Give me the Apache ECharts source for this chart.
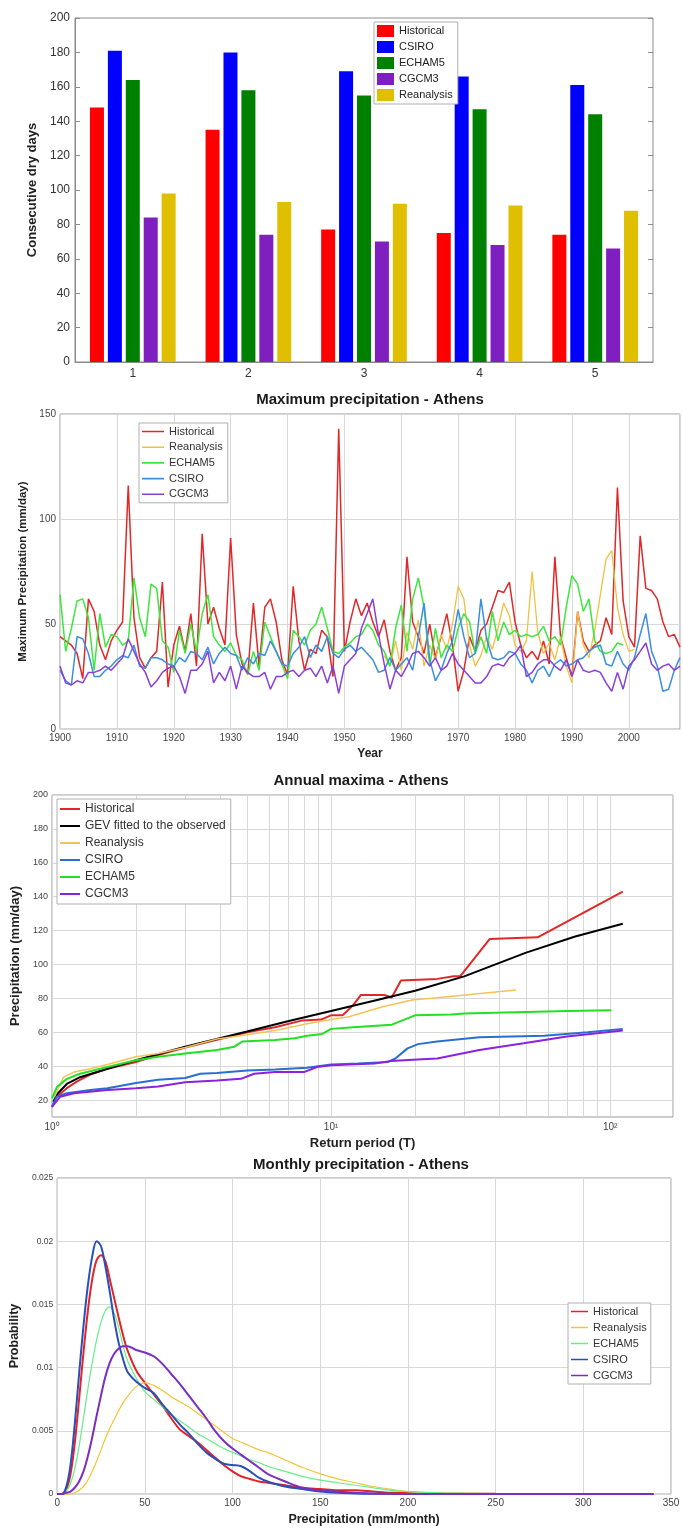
<!DOCTYPE html>
<html><head><meta charset="utf-8">
<script src="https://cdn.jsdelivr.net/npm/echarts@6/dist/echarts.min.js"></script>
<style>
html,body{margin:0;padding:0;background:#fff;}
#wrap{position:relative;width:683px;height:1531px;overflow:hidden;background:#fff;}
.p{position:absolute;left:0;width:683px;}
</style></head><body>
<div id="wrap">
<div id="c1" class="p" style="top:0;height:385px"></div>
<div id="c2" class="p" style="top:380px;height:385px"></div>
<div id="c3" class="p" style="top:760px;height:395px"></div>
<div id="c4" class="p" style="top:1135px;height:396px"></div>
</div>
<script>
// ---------- Panel 1: consecutive dry days ----------
const cddCategories = ['1','2','3','4','5'];
const cddHistorical = [148,135,77,75,74];
const cddCSIRO      = [181,180,169,166,161];
const cddECHAM5     = [164,158,155,147,144];
const cddCGCM3      = [84,74,70,68,66];
const cddReanalysis = [98,93,92,91,88];

// ---------- Panel 2: maximum precipitation (mm/day) by year ----------
const histStartYear = 1900;
const maxHistorical = [44,42,40,36,24,62,56,40,33,42,
 47,51,116,53,34,29,34,37,70,20,
 40,49,37,55,30,93,50,58,48,40,
 91,45,31,26,60,30,58,62,51,33,
 26,68,42,28,38,36,47,44,25,143,
 37,51,62,54,60,51,44,52,37,28,
 34,82,51,44,36,50,34,44,55,40,
 18,28,44,37,47,50,58,66,65,70,
 51,40,34,37,33,42,31,82,44,34,
 25,56,42,37,40,42,53,45,115,61,
 44,39,92,67,66,62,51,44,45,39];
const reanStartYear = 1957;
const maxReanalysis = [35,30,42,
 28,46,38,52,30,40,33,45,38,50,
 68,62,40,30,35,44,38,48,60,54,
 40,37,42,75,46,36,41,33,44,30,
 22,56,40,34,47,64,81,85,58,45,
 37,38];
const echamStartYear = 1900;
const maxECHAM5 = [64,37,48,61,62,53,28,55,39,45,
 44,40,42,72,53,44,69,67,42,39,
 27,47,36,50,37,55,64,44,40,37,
 41,35,33,26,37,28,51,44,37,31,
 24,47,44,40,47,50,58,48,37,36,
 39,41,44,45,50,47,40,37,30,48,
 59,37,62,72,58,30,48,34,40,37,
 48,55,51,36,44,36,56,42,51,45,
 47,44,45,44,45,49,42,44,40,58,
 73,69,56,62,42,37,36,37,41,40];
const csiroStartYear = 1900;
const maxCSIRO = [28,23,21,44,43,36,25,25,28,30,
 33,35,34,40,30,29,34,34,33,31,
 30,34,32,37,36,33,39,31,36,39,
 36,35,28,34,31,36,35,42,37,31,
 30,36,39,44,34,40,37,44,36,34,
 38,40,37,39,36,33,27,28,34,28,
 31,34,28,44,60,33,23,28,36,42,
 57,44,34,36,62,43,34,33,34,37,
 36,31,28,22,28,30,25,31,33,30,
 31,33,34,37,39,40,31,30,37,31,
 28,34,45,55,37,30,18,19,28,34];
const cgcmStartYear = 1900;
const maxCGCM3 = [30,22,21,23,22,27,27,28,30,28,
 31,34,43,37,31,27,20,23,27,29,
 30,25,17,28,28,31,37,22,27,23,
 30,19,30,27,25,25,27,19,25,25,
 27,28,25,28,29,25,30,22,30,17,
 30,33,36,48,55,62,45,31,19,28,
 25,30,36,37,34,30,34,28,30,36,
 31,28,25,22,22,25,30,31,30,34,
 36,40,25,27,31,33,33,30,28,33,
 25,33,28,27,28,27,22,18,27,19,
 30,33,37,41,31,28,30,31,28,30];

// ---------- Panel 3: annual maxima vs return period [T, mm/day] ----------
const amHistorical = [[1.0,16],[1.04,22],[1.13,27],[1.23,31],[1.37,35],[1.58,38.5],[2.0,42.5],[2.4,46.5],[3.0,51],[4.0,56],[5.0,60],[6.3,63],[7.9,67],[9.2,67.5],[10,70],[11,70],[12,76],[12.8,82],[15.5,82],[16.5,80.5],[17.8,90.5],[24,91.5],[27.5,93],[29,93],[37,115],[55,116],[111,143]];
const amGEV = [[1.01,19],[1.05,24],[1.13,29.5],[1.26,33.5],[1.58,38.5],[2,43.5],[3,51.5],[5,60.5],[7,66.5],[10,72.5],[15,79.5],[20,84.5],[30,93],[50,107],[75,116.5],[111,124]];
const amReanalysis = [[1.02,22],[1.1,33.5],[1.2,36.5],[1.37,38.5],[1.58,41],[2,45.5],[2.4,47.5],[3,51],[3.9,56],[5,58.5],[6.3,61],[8.2,65],[10,67.5],[11.5,69],[15.3,75],[19.5,79],[23,80],[46,85]];
const amCSIRO = [[1.0,16],[1.04,22],[1.13,24],[1.37,26],[1.58,27],[2,30],[2.4,32],[3,33],[3.4,35.5],[3.9,36],[5,37.5],[6.3,38],[8.2,39],[10,41],[12.5,41.5],[16,42.5],[17,44.5],[18.8,50.5],[20.5,53],[24,54.5],[34,57],[58,58],[83,60],[111,62]];
const amECHAM5 = [[1.0,21],[1.04,27.5],[1.13,32.5],[1.26,35.5],[1.58,39.5],[2,43.5],[2.4,45.5],[3,47.5],[3.9,49.5],[4.5,51.5],[4.8,54.5],[6.3,55.5],[7.4,56.5],[8.2,58],[9.3,59],[10,62],[12,63],[16.5,64.5],[20,70],[27,70.5],[30,71],[50,72],[70,72.5],[101,73]];
const amCGCM3 = [[1.0,16],[1.07,22],[1.2,24],[1.58,26],[2,27],[2.4,28],[3,30.5],[3.9,31.5],[4.75,32.5],[5.3,35.5],[6.3,36.5],[8,36.5],[8.9,39.5],[10,40.5],[14.3,41.5],[16.4,43],[20.4,44],[24,44.5],[34,49.5],[49,53.5],[70,57.5],[111,61]];
const logMinorGrid = [2,3,4,5,6,7,8,9,20,30,40,50,60,70,80,90];

// ---------- Panel 4: monthly precipitation densities ----------
const precipGrid = [0,2.5,5,7.5,10,12.5,15,17.5,20,22.5,25,27.5,30,32.5,35,37.5,40,45,50,55,60,65,70,75,80,85,90,95,100,105,110,115,120,130,140,150,160,170,180,190,200,220,250,300,340];
const pdfHistorical = [0,0,0.0003,0.0015,0.0040,0.0075,0.0112,0.0145,0.0170,0.0185,0.0189,0.0184,0.0170,0.0155,0.0140,0.0126,0.0114,
 0.0098,0.0088,0.0079,0.0070,0.0060,0.0051,0.0046,0.0041,0.0035,0.0029,0.0023,0.0018,0.0014,0.0012,0.0010,0.0009,
 0.0007,0.0005,0.0004,0.0003,0.0003,0.0002,0.0001,0.0001,0.00005,0.00002,0,0];
const pdfReanalysis = [0,0,0,0,0.0001,0.0003,0.0006,0.0011,0.0018,0.0026,0.0035,0.0044,0.0052,0.0059,0.0066,0.0072,0.0077,
 0.0085,0.0088,0.0086,0.0082,0.0077,0.0073,0.0069,0.0064,0.0059,0.0054,0.0049,0.0044,0.0041,0.0038,0.0035,0.0033,
 0.0027,0.0021,0.0016,0.0012,0.0009,0.0006,0.0004,0.0002,0.0001,0.00004,0.00001,0];
const pdfECHAM5 = [0,0,0.0002,0.0008,0.0020,0.0038,0.0060,0.0083,0.0104,0.0122,0.0136,0.0145,0.0148,0.0143,0.0132,0.0118,0.0106,
 0.0092,0.0081,0.0075,0.0069,0.0063,0.0058,0.0053,0.0048,0.0044,0.0040,0.0036,0.0033,0.0030,0.0027,0.0025,0.0022,
 0.0018,0.0014,0.0011,0.0009,0.0007,0.0005,0.0003,0.0002,0.0001,0.00003,0.00001,0];
const pdfCSIRO = [0,0,0.0005,0.0022,0.0055,0.0095,0.0133,0.0165,0.0188,0.0200,0.0196,0.0180,0.0160,0.0138,0.0120,0.0107,0.0097,
 0.0089,0.0084,0.0080,0.0071,0.0063,0.0055,0.0048,0.0040,0.0033,0.0028,0.0024,0.0023,0.0022,0.0018,0.0013,0.0010,
 0.0006,0.0004,0.0002,0.0001,0.00005,0.00003,0.00002,0.00001,0,0,0,0];
const pdfCGCM3 = [0,0,0.0001,0.0002,0.0005,0.0010,0.0018,0.0030,0.0045,0.0062,0.0078,0.0093,0.0104,0.0111,0.0115,0.0117,0.0117,
 0.0114,0.0112,0.0109,0.0103,0.0095,0.0087,0.0078,0.0069,0.0060,0.0050,0.0042,0.0036,0.0031,0.0026,0.0021,0.0016,
 0.0010,0.0005,0.0003,0.0002,0.0001,0.00005,0.00002,0,0,0,0,0];

// ---------- helpers ----------
const FONT = '"Liberation Sans", Arial, Helvetica, sans-serif';
const GRIDC = '#d8d8d8';
const BOXC = '#9a9a9a';
function byYear(start, vals){ return vals.map((v,i)=>[start+i, v]); }
function zip(xs, ys){ return xs.map((x,i)=>[x, ys[i]]); }
function titleText(x, y, text){
  return {type:'text', x:x, y:y, silent:true,
    style:{text:text, font:'bold 15px '+FONT, fill:'#1a1a1a', align:'center', verticalAlign:'middle'}};
}
// a plain line-segment legend icon (w x h box, line of thickness t in the middle)
function lineIcon(w, h, t){
  const a = (h - t) / 2, b = (h + t) / 2;
  return 'path://M0,0 L0.01,0 M0,' + a + ' L' + w + ',' + a + ' L' + w + ',' + b + ' L0,' + b + ' Z M0,' + h + ' L0.01,' + h;
}
function lineSeries(name, data, color, width, extra){
  return Object.assign({name:name, type:'line', data:data, symbol:'none', showSymbol:false,
    lineStyle:{color:color, width:width}, itemStyle:{color:color}, emphasis:{disabled:true}, animation:false}, extra||{});
}

// ---------- Panel 1 ----------
const c1 = echarts.init(document.getElementById('c1'));
c1.setOption({
  animation:false,
  textStyle:{fontFamily:FONT},
  grid:{left:75, top:18, width:578, height:344, show:true, borderColor:'#8c8c8c', borderWidth:1},
  legend:{orient:'vertical', left:374, top:22, itemWidth:17, itemHeight:12, itemGap:4, icon:'rect', z:20,
    padding:[3,5,3,3], borderColor:'#b0b0b0', borderWidth:1, backgroundColor:'#fff',
    textStyle:{fontSize:11, color:'#222', fontFamily:FONT},
    data:['Historical','CSIRO','ECHAM5','CGCM3','Reanalysis']},
  xAxis:[
    {type:'category', data:cddCategories, axisLine:{lineStyle:{color:'#8c8c8c'}},
     axisTick:{alignWithLabel:true, inside:true, length:5, lineStyle:{color:'#8c8c8c'}},
     axisLabel:{fontSize:12, color:'#333', margin:6}},
    {type:'category', position:'top', data:cddCategories, axisLine:{show:false},
     axisTick:{alignWithLabel:true, inside:true, length:5, lineStyle:{color:'#8c8c8c'}}, axisLabel:{show:false}}
  ],
  yAxis:[
    {type:'value', min:0, max:200, interval:20, name:'Consecutive dry days', nameLocation:'middle', nameGap:28,
     nameTextStyle:{fontSize:13, fontWeight:'bold', color:'#222'},
     axisLine:{show:true, lineStyle:{color:'#8c8c8c'}}, axisTick:{show:true, inside:true, length:5, lineStyle:{color:'#8c8c8c'}},
     axisLabel:{fontSize:12, color:'#333', margin:5}, splitLine:{show:false}},
    {type:'value', position:'right', min:0, max:200, interval:20, axisLine:{show:false},
     axisTick:{show:true, inside:true, length:5, lineStyle:{color:'#8c8c8c'}}, axisLabel:{show:false}, splitLine:{show:false}}
  ],
  series:[
    {name:'Historical', type:'bar', data:cddHistorical, barWidth:14, barGap:'28%', itemStyle:{color:'#ff0000'}},
    {name:'CSIRO', type:'bar', data:cddCSIRO, barWidth:14, barGap:'28%', itemStyle:{color:'#0000ff'}},
    {name:'ECHAM5', type:'bar', data:cddECHAM5, barWidth:14, barGap:'28%', itemStyle:{color:'#008000'}},
    {name:'CGCM3', type:'bar', data:cddCGCM3, barWidth:14, barGap:'28%', itemStyle:{color:'#7f1fbf'}},
    {name:'Reanalysis', type:'bar', data:cddReanalysis, barWidth:14, barGap:'28%', itemStyle:{color:'#dfbf00'}}
  ]
});

// ---------- Panel 2 ----------
const c2 = echarts.init(document.getElementById('c2'));
c2.setOption({
  animation:false,
  textStyle:{fontFamily:FONT},
  graphic:[titleText(370, 20, 'Maximum precipitation - Athens')],
  grid:{left:60, top:34, width:621, height:321, show:true, borderColor:BOXC, borderWidth:1},
  legend:{orient:'vertical', left:139, top:43, itemWidth:22, itemHeight:10, itemGap:4.7, z:20,
    icon:lineIcon(22, 10, 1.6),
    padding:[3,5,3,3], borderColor:'#b0b0b0', borderWidth:1, backgroundColor:'#fff',
    textStyle:{fontSize:11, color:'#333', fontFamily:FONT},
    data:['Historical','Reanalysis','ECHAM5','CSIRO','CGCM3']},
  xAxis:{type:'value', min:1900, max:2009, interval:10, name:'Year', nameLocation:'middle', nameGap:12,
    nameTextStyle:{fontSize:12, fontWeight:'bold', color:'#222'},
    axisLine:{show:false}, axisTick:{show:false},
    axisLabel:{fontSize:10, color:'#444', margin:4, formatter:v => (v % 10 === 0 ? String(v) : '')},
    splitLine:{show:true, lineStyle:{color:GRIDC, width:1}}},
  yAxis:{type:'value', min:0, max:150, interval:50, name:'Maximum Precipitation (mm/day)', nameLocation:'middle', nameGap:22,
    nameTextStyle:{fontSize:11.5, fontWeight:'bold', color:'#222'},
    axisLine:{show:false}, axisTick:{show:false}, axisLabel:{fontSize:10, color:'#444', margin:4},
    splitLine:{show:true, lineStyle:{color:GRIDC, width:1}}},
  series:[
    lineSeries('Historical', byYear(histStartYear, maxHistorical), '#e02828', 1.5),
    lineSeries('Reanalysis', byYear(reanStartYear, maxReanalysis), '#f0c040', 1.3),
    lineSeries('ECHAM5', byYear(echamStartYear, maxECHAM5), '#3ee63e', 1.5),
    lineSeries('CSIRO', byYear(csiroStartYear, maxCSIRO), '#3a8fe0', 1.5),
    lineSeries('CGCM3', byYear(cgcmStartYear, maxCGCM3), '#8a3fd6', 1.5)
  ]
});

// ---------- Panel 3 ----------
const sup = ['\u2070','\u00b9','\u00b2','\u00b3'];
const c3 = echarts.init(document.getElementById('c3'));
c3.setOption({
  animation:false,
  textStyle:{fontFamily:FONT},
  graphic:[titleText(361, 21, 'Annual maxima - Athens')],
  grid:{left:52, top:35, width:621, height:322, show:true, borderColor:BOXC, borderWidth:1},
  legend:{orient:'vertical', left:57, top:39, itemWidth:20, itemHeight:11, itemGap:5, z:20,
    icon:lineIcon(20, 11, 2),
    padding:[4,5,4,3], borderColor:'#b0b0b0', borderWidth:1, backgroundColor:'#fff',
    textStyle:{fontSize:12, color:'#333', fontFamily:FONT},
    data:['Historical','GEV fitted to the observed','Reanalysis','CSIRO','ECHAM5','CGCM3']},
  xAxis:{type:'log', logBase:10, min:1, max:168, name:'Return period (T)', nameLocation:'middle', nameGap:19,
    nameTextStyle:{fontSize:13, fontWeight:'bold', color:'#222'},
    axisLine:{show:false}, axisTick:{show:false},
    axisLabel:{fontSize:10, color:'#444', margin:5, formatter:function(v){
      const l = Math.log10(v); const r = Math.round(l);
      return Math.abs(l - r) < 1e-6 ? '10' + sup[r] : '';
    }},
    splitLine:{show:true, lineStyle:{color:GRIDC, width:1}}},
  yAxis:{type:'value', min:10, max:200, interval:10, name:'Precipitation (mm/day)', nameLocation:'middle', nameGap:25,
    nameTextStyle:{fontSize:13, fontWeight:'bold', color:'#222'},
    axisLine:{show:false}, axisTick:{show:false},
    axisLabel:{fontSize:9, color:'#444', margin:4, formatter:v => (v % 20 === 0 ? String(v) : '')},
    splitLine:{show:true, lineStyle:{color:['rgba(0,0,0,0)', GRIDC], width:1}}},
  series:[
    {name:'_grid', type:'line', data:[[1,10]], symbol:'none', lineStyle:{opacity:0}, silent:true, z:0, zlevel:0, animation:false,
     markLine:{silent:true, symbol:['none','none'], label:{show:false}, animation:false, z:0,
       lineStyle:{color:GRIDC, width:1, type:'solid'}, emphasis:{disabled:true},
       data:logMinorGrid.map(v => ({xAxis:v}))}},
    lineSeries('Historical', amHistorical, '#e02828', 2),
    lineSeries('GEV fitted to the observed', amGEV, '#000000', 2),
    lineSeries('Reanalysis', amReanalysis, '#f4c25a', 1.5),
    lineSeries('CSIRO', amCSIRO, '#2a6fd0', 2),
    lineSeries('ECHAM5', amECHAM5, '#22e022', 2),
    lineSeries('CGCM3', amCGCM3, '#8a22e0', 2)
  ]
});

// ---------- Panel 4 ----------
const c4 = echarts.init(document.getElementById('c4'));
c4.setOption({
  animation:false,
  textStyle:{fontFamily:FONT},
  graphic:[titleText(361, 30, 'Monthly precipitation - Athens')],
  grid:{left:53, top:43, width:618, height:322, show:true, borderColor:BOXC, borderWidth:1},
  legend:{orient:'vertical', left:568, top:168, itemWidth:17, itemHeight:10, itemGap:5, z:20,
    icon:lineIcon(17, 10, 1.6),
    padding:[3,4,3,3], borderColor:'#b0b0b0', borderWidth:1, backgroundColor:'#fff',
    textStyle:{fontSize:11, color:'#333', fontFamily:FONT},
    data:['Historical','Reanalysis','ECHAM5','CSIRO','CGCM3']},
  xAxis:{type:'value', min:0, max:350, interval:50, name:'Precipitation (mm/month)', nameLocation:'middle', nameGap:17,
    nameTextStyle:{fontSize:12.5, fontWeight:'bold', color:'#222'},
    axisLine:{show:false}, axisTick:{show:false}, axisLabel:{fontSize:10, color:'#444', margin:4},
    splitLine:{show:true, lineStyle:{color:GRIDC, width:1}}},
  yAxis:{type:'value', min:0, max:0.025, interval:0.005, name:'Probability', nameLocation:'middle', nameGap:35,
    nameTextStyle:{fontSize:12.5, fontWeight:'bold', color:'#222'},
    axisLine:{show:false}, axisTick:{show:false}, axisLabel:{fontSize:8.5, color:'#444', margin:4},
    splitLine:{show:true, lineStyle:{color:GRIDC, width:1}}},
  series:[
    lineSeries('Historical', zip(precipGrid, pdfHistorical), '#e52228', 2, {smooth:0.35}),
    lineSeries('Reanalysis', zip(precipGrid, pdfReanalysis), '#f3c53a', 1.2, {smooth:0.35}),
    lineSeries('ECHAM5', zip(precipGrid, pdfECHAM5), '#66ee88', 1.2, {smooth:0.35}),
    lineSeries('CSIRO', zip(precipGrid, pdfCSIRO), '#2a4fb8', 2, {smooth:0.35}),
    lineSeries('CGCM3', zip(precipGrid, pdfCGCM3), '#7a2fc0', 2, {smooth:0.35})
  ]
});
</script>
</body></html>
